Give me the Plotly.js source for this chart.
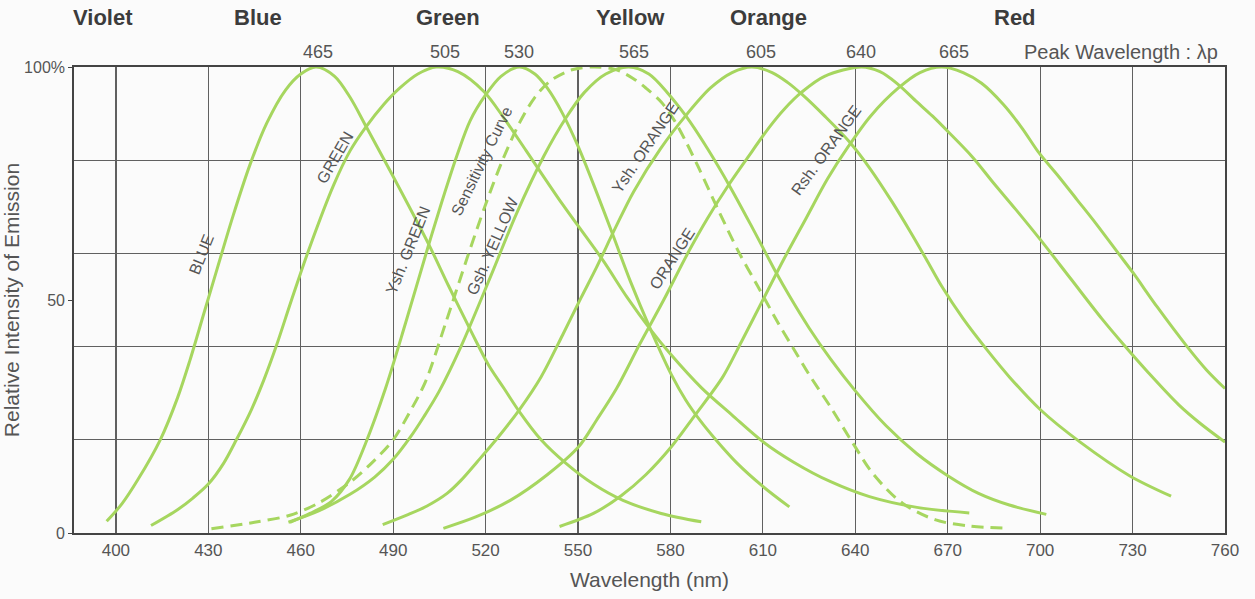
<!DOCTYPE html>
<html>
<head>
<meta charset="utf-8">
<script src="https://cdn.plot.ly/plotly-3.0.1.min.js"></script>
<style>html,body{margin:0;padding:0;background:#fbfbfb;}#chart{width:1255px;height:599px;}</style>
</head>
<body>
<div id="chart"></div>
<script>
// ---- data (wavelength nm, relative intensity %) ----
const blueX = [397, 402, 407, 414.4, 420, 424, 428.5, 433, 438, 443.5, 449, 455, 460, 465, 471, 476, 481.4, 490, 501.5, 508, 515.5, 521, 526, 531, 538, 546, 555, 564.6, 577, 590];
const blueY = [2.5, 6.3, 11.3, 20, 29, 37, 47, 57, 68, 79, 88, 95, 98.5, 100, 98, 93.5, 87, 76.5, 62, 53, 43, 36, 31, 26, 20, 15, 10.5, 7, 4.2, 2.4];

const greenX = [411.4, 420, 425, 430, 435, 439.1, 444, 448, 452, 457, 463, 470.7, 476, 481, 487, 492, 498, 504, 511, 519.5, 526, 533.2, 545, 558, 566, 573.6, 580, 590, 600, 610, 620, 632, 644.6, 660, 677];
const greenY = [1.6, 5, 7.5, 10.5, 15, 20, 26.5, 32.8, 40, 50, 61.5, 74.7, 82, 87, 92, 95.4, 98.5, 100, 99, 94.7, 89, 82, 70.5, 58.6, 50.5, 43.6, 38.4, 31.2, 25.3, 19.6, 15.2, 11, 7.8, 5.5, 4.3];

const yshGreenX = [456.5, 463, 470, 475.8, 480.9, 487.5, 494, 501.5, 506, 510.7, 515, 520, 525, 531, 536, 540, 545, 550, 555.5, 561.3, 567, 573.6, 580.3, 585, 589.8, 595, 601.6, 610, 618.6];
const yshGreenY = [2.3, 4.2, 6.8, 11.5, 19, 31, 45, 61.8, 71.5, 81, 88.5, 94, 98, 100, 98.5, 95.5, 90, 83, 74, 64, 54, 43.6, 34, 28.5, 24, 19.8, 15, 10, 5.6];

const sensX = [431, 445, 456.5, 466, 476, 483, 490, 495, 500.5, 507, 514, 520, 525.5, 531, 536, 541, 548, 555, 562, 568, 572, 577, 581.3, 585, 589, 595.4, 602, 608.3, 615, 620, 625, 632, 639, 646, 655.3, 666.1, 677, 690];
const sensY = [0.9, 2.3, 3.8, 6.5, 10.9, 15, 20, 25.5, 32.5, 45, 59, 70.5, 80, 88, 93.5, 97, 99.4, 100, 99.5, 97.5, 95.5, 92.5, 88.5, 84, 78.6, 69.5, 60.5, 53, 45, 39.5, 34, 27, 19.5, 12.5, 6.4, 2.8, 1.5, 1];

const gshYellowX = [456, 466, 476, 484, 490, 495.5, 500, 505, 512, 521.6, 530, 539, 546, 552, 559, 566.5, 573, 579, 585, 592, 599.6, 607, 614.2, 618.5, 625, 632, 640, 650, 660, 670, 680, 690, 702];
const gshYellowY = [2.3, 4.8, 8.3, 12, 15.8, 20.5, 25, 30.5, 40, 55, 68.5, 81, 89, 94.5, 98.5, 100, 98.5, 94.5, 89.5, 82.5, 74, 65, 56, 51, 44, 37.3, 30.5, 23, 17, 12.3, 8.5, 6, 4];

const yshOrangeX = [486.6, 495, 501, 507.5, 512, 517.3, 524, 531, 538, 545, 551, 556, 562, 568, 576.8, 585.5, 593, 600, 606.4, 613, 618, 622.9, 630, 638, 645, 652, 658, 663, 668, 675, 682.5, 690, 700, 713, 729, 742.5];
const yshOrangeY = [1.8, 4, 5.8, 8.5, 11.3, 15.3, 20.5, 26.5, 33.5, 42.5, 50.5, 57, 65.3, 73.2, 82.5, 90, 95.5, 98.8, 100, 98.8, 96.7, 94, 89.5, 84, 78, 71, 64.5, 58.8, 53, 46, 39.5, 33.5, 26.5, 19.5, 12.3, 7.9];

const orangeX = [506.3, 517, 528, 540, 550.2, 556, 562.5, 570, 577.8, 586, 592, 598.5, 605, 612, 617, 622.6, 630, 642, 648, 653.5, 660, 665, 670.3, 678, 685, 692, 700, 710, 720, 727, 735, 745, 752, 760];
const orangeY = [1, 3.5, 7, 12.5, 18.5, 24.2, 31, 40.5, 50, 60.5, 67.5, 74.3, 80.5, 87, 91, 94.6, 98, 100, 99, 96.5, 92.5, 89.5, 86, 80.7, 75, 69.5, 63, 54.5, 46, 40.5, 34.5, 27.5, 23.5, 19.5];

const rshOrangeX = [544, 555, 564, 572, 580.3, 588, 597, 603, 610, 617, 624, 631, 637.8, 645, 654, 661, 668, 675, 681, 688, 694, 699.7, 706, 712, 718, 725.4, 730.2, 738, 747.7, 754, 760];
const rshOrangeY = [1.4, 4.2, 8, 12.5, 18.5, 25.3, 33.5, 41, 50, 59, 67.5, 76, 83, 89.5, 95.5, 98.8, 100, 98.8, 96.5, 92, 87, 81.5, 76.5, 71.5, 66.5, 60, 55.8, 48.5, 40, 35, 31];

const xTicks = [400, 430, 460, 490, 520, 550, 580, 610, 640, 670, 700, 730, 760];
const yTicks = [0, 50, 100];
const yTickText = ['0', '50', '100%'];

const bandNames = ['Violet', 'Blue', 'Green', 'Yellow', 'Orange', 'Red'];
const bandPos = [395.8, 446, 507.7, 567, 611.9, 691.8];

const peakText = ['465', '505', '530', '565', '605', '640', '665'];
const peakPos = [465.7, 506.9, 530.7, 568.1, 609.3, 641.8, 672];

const curveLabels = ['BLUE', 'GREEN', 'Ysh. GREEN', 'Sensitivity Curve', 'Gsh. YELLOW', 'Ysh. ORANGE', 'ORANGE', 'Rsh. ORANGE'];
const labelX = [427.8, 471.2, 494.7, 518.6, 522.2, 571.8, 580.5, 630.8];
const labelY = [59.7, 80.5, 60.7, 79.8, 61.8, 82.8, 59, 82.2];
const labelAngle = [-68, -60, -68, -64, -66, -56, -57, -54];

// ---- styling ----
const lineColor = '#a6d65f';
function curve(x, y, name, dashed) {
  return {
    type: 'scatter', mode: 'lines', x: x, y: y, name: name,
    line: {color: lineColor, width: 3, shape: 'spline', smoothing: 0.9, dash: dashed ? '12px,7px' : 'solid'},
    hoverinfo: 'x+y+name'
  };
}

const data = [
  curve(blueX, blueY, 'BLUE'),
  curve(greenX, greenY, 'GREEN'),
  curve(yshGreenX, yshGreenY, 'Ysh. GREEN'),
  curve(sensX, sensY, 'Sensitivity Curve', true),
  curve(gshYellowX, gshYellowY, 'Gsh. YELLOW'),
  curve(yshOrangeX, yshOrangeY, 'Ysh. ORANGE'),
  curve(orangeX, orangeY, 'ORANGE'),
  curve(rshOrangeX, rshOrangeY, 'Rsh. ORANGE')
];

const annotations = [];
bandNames.forEach((t, i) => annotations.push({
  text: t, x: bandPos[i], xref: 'x', y: 1.107, yref: 'paper', showarrow: false,
  xanchor: 'center', yanchor: 'middle',
  font: {size: 22, color: '#3c3c3c', weight: 'bold', family: 'Liberation Sans, Arial, sans-serif'}
}));
peakText.forEach((t, i) => annotations.push({
  text: t, x: peakPos[i], xref: 'x', y: 1.033, yref: 'paper', showarrow: false,
  xanchor: 'center', yanchor: 'middle', font: {size: 18, color: '#555'}
}));
annotations.push({
  text: 'Peak Wavelength : λp', x: 0.9957, xref: 'paper', y: 1.033, yref: 'paper',
  showarrow: false, xanchor: 'right', yanchor: 'middle', font: {size: 20, color: '#555'}
});
curveLabels.forEach((t, i) => annotations.push({
  text: t, x: labelX[i], y: labelY[i], xref: 'x', yref: 'y', showarrow: false,
  textangle: labelAngle[i], xanchor: 'center', yanchor: 'middle',
  font: {size: 16, color: '#555'}
}));

const layout = {
  width: 1255, height: 599,
  paper_bgcolor: '#fbfbfb', plot_bgcolor: '#fbfbfb',
  margin: {l: 74, r: 30, t: 67, b: 66},
  showlegend: false,
  font: {family: 'Liberation Sans, Arial, sans-serif', color: '#555'},
  xaxis: {
    range: [386.4, 760], tickmode: 'array', tickvals: xTicks,
    showgrid: true, gridcolor: '#606060', gridwidth: 1.2,
    zeroline: false, showline: true, linecolor: '#444', linewidth: 2.2, mirror: true,
    ticks: '', tickfont: {size: 17, color: '#555'},
    title: {text: 'Wavelength (nm)', font: {size: 21, color: '#555'}, standoff: 14}
  },
  yaxis: {
    range: [0, 100], tickmode: 'array', tickvals: yTicks, ticktext: yTickText,
    showgrid: false, zeroline: false, showline: true, linecolor: '#444', linewidth: 1.8, mirror: true,
    ticks: 'outside', ticklen: 4, tickcolor: '#444', tickfont: {size: 16, color: '#555'},
    minor: {dtick: 20, tick0: 0, showgrid: true, gridcolor: '#606060', gridwidth: 1.2, ticks: ''},
    title: {text: 'Relative Intensity of Emission', font: {size: 21, color: '#555'}, standoff: 4}
  },
  annotations: annotations
};

Plotly.newPlot('chart', data, layout, {displayModeBar: false, staticPlot: true});
</script>
</body>
</html>
